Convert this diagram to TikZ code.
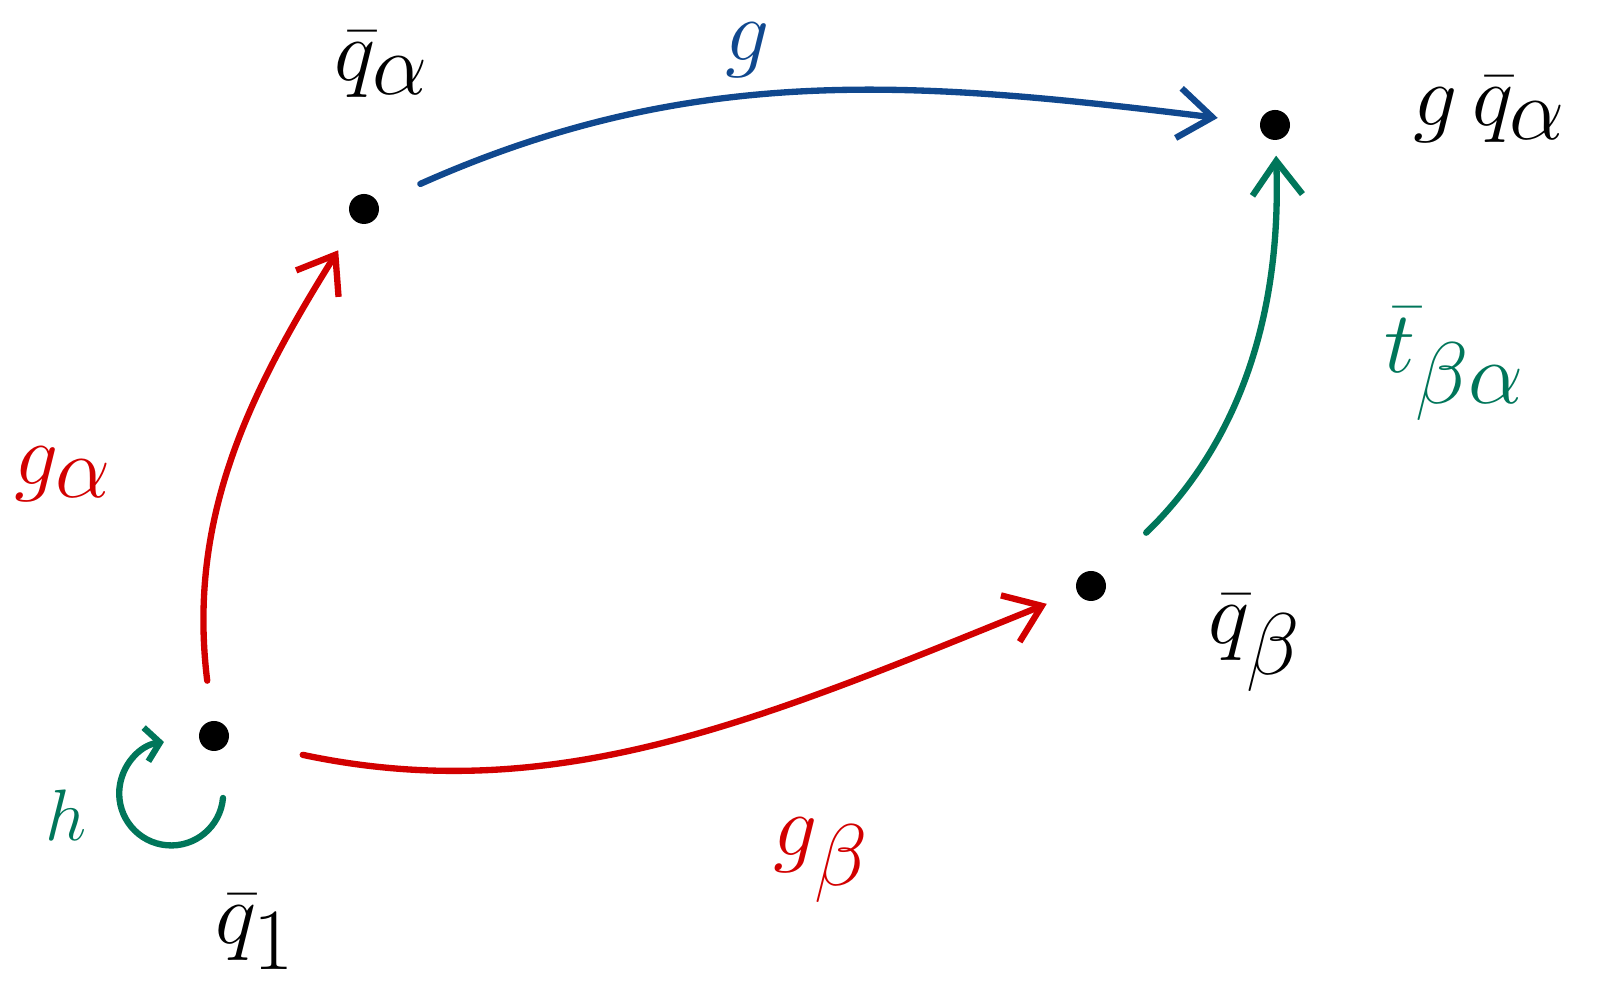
\documentclass[tikz,border=0pt]{standalone}
\usepackage{amsmath,amssymb}
\usepackage{xcolor}
\usetikzlibrary{arrows.meta}
\definecolor{penred}{RGB}{210,0,0}
\definecolor{penblue}{RGB}{16,72,142}
\definecolor{pengreen}{RGB}{0,118,90}
\begin{document}
\begin{tikzpicture}
\tikzstyle{pt}=[circle,fill=black,inner sep=0pt,minimum size=0.3cm]
\tikzstyle{lbl}=[inner sep=0pt,font=\fontsize{36}{42}\selectfont]
\tikzstyle{pen}=[line width=1.8pt,line cap=round,-{Straight Barb[length=0.34cm,width=0.5cm,line width=1.8pt]}]
\useasboundingbox (0,0) rectangle (15.99,10);
% points
\node[pt] (q1) at (2.14,2.64) {};
\node[pt] (qa) at (3.64,7.91) {};
\node[pt] (qb) at (10.91,4.14) {};
\node[pt] (gq) at (12.75,8.75) {};
% point labels
\node[lbl] (lq1) at (2.55,0.68) {$\bar{q}_1$};
\node[lbl] (lqa) at (3.82,9.35) {$\bar{q}_\alpha$};
\node[lbl] (lqb) at (12.55,3.57) {$\bar{q}_\beta$};
\node[lbl] (lgq) at (14.9,8.9) {$g\,\bar{q}_\alpha$};
% arrows
\draw[pen,penred,shorten <=0.4cm,shorten >=0.33cm] (q1) to[out=97,in=238] (qa);
\draw[pen,penblue,shorten <=0.46cm,shorten >=0.42cm] (qa) to[out=24,in=173] (gq);
\draw[pen,penred,shorten <=0.75cm,shorten >=0.32cm] (q1) to[out=-12,in=202] (qb);
\draw[pen,pengreen,shorten <=0.61cm,shorten >=0.15cm] (qb) to[out=44,in=-88] (gq);
% arrow labels
\node[lbl,penred] (lga) at (0.63,5.26) {$g_\alpha$};
\node[lbl,penblue,font=\fontsize{30}{36}\selectfont] (lg) at (7.48,9.5) {$g$};
\node[lbl,penred] (lgb) at (8.21,1.40) {$g_\beta$};
\node[lbl,pengreen] (lt) at (14.55,6.36) {$\bar{t}_{\beta\alpha}$};
% loop h at q1
\coordinate (hs) at (2.23,2.02);
\draw[line width=1.8pt,line cap=round,pengreen,-{Straight Barb[length=0.14cm,width=0.34cm,line width=1.8pt]}] (hs) arc[start angle=-5,end angle=-262,radius=0.52cm];
\node[lbl,pengreen,font=\fontsize{22}{26}\selectfont] (lh) at (0.66,1.85) {$h$};
\end{tikzpicture}
\end{document}
